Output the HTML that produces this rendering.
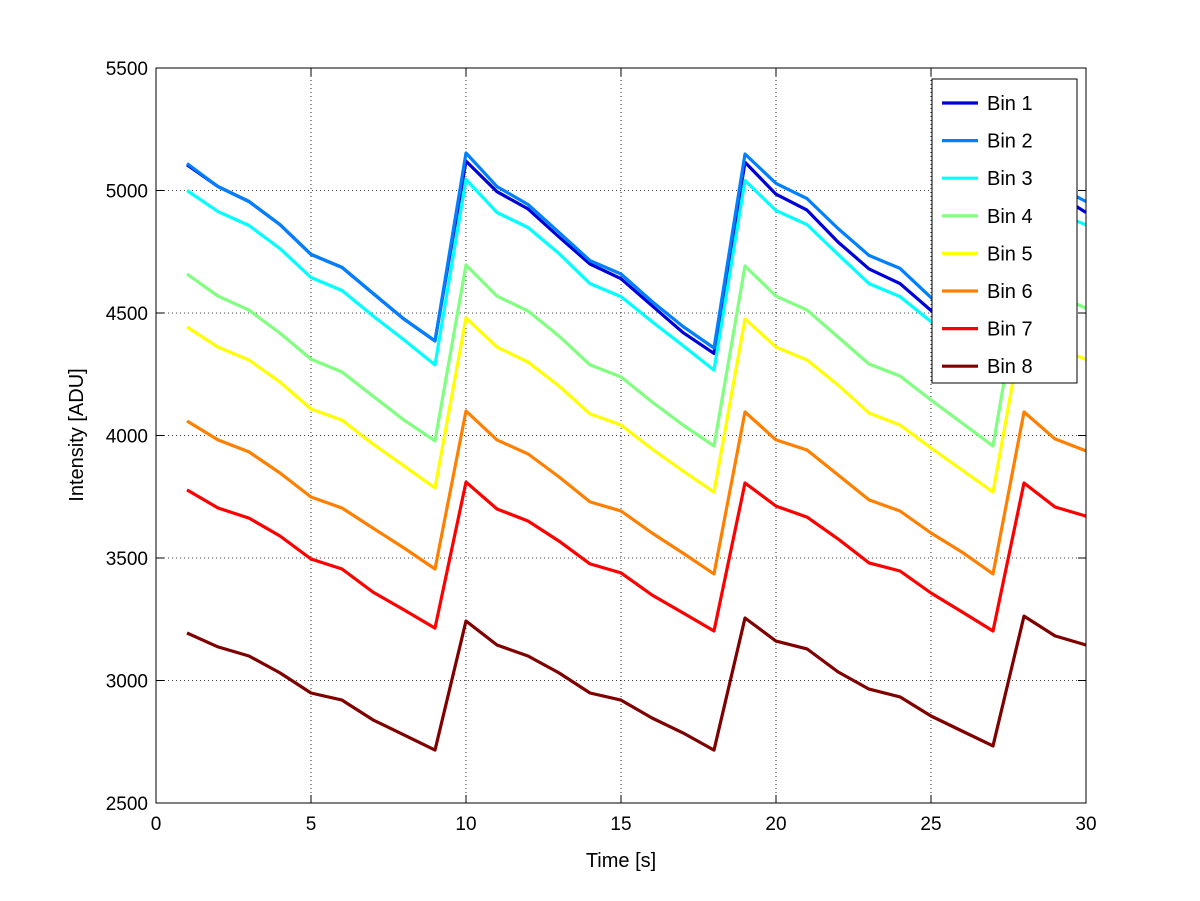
<!DOCTYPE html>
<html><head><meta charset="utf-8"><style>
body{margin:0;background:#fff;}
svg{display:block;font-family:"Liberation Sans",sans-serif;}
</style></head><body>
<svg id="chart" width="1200" height="901" viewBox="0 0 1200 901"></svg>
<script>
const xTicks=[0,5,10,15,20,25,30];
const yTicks=[2500,3000,3500,4000,4500,5000,5500];
const seriesNames=["Bin 1","Bin 2","Bin 3","Bin 4","Bin 5","Bin 6","Bin 7","Bin 8"];
const seriesColors=["#0000d8","#0080ff","#00ffff","#80ff80","#ffff00","#ff8000","#ff0000","#800000"];
const bin1=[5105,5016,4955,4861,4739,4686,4580,4475,4386,5120,4995,4925,4810,4700,4640,4530,4420,4335,5115,4985,4920,4790,4680,4620,4510,4420,4330,5120,4990,4910];
const bin2=[5110,5016,4955,4861,4739,4686,4580,4475,4386,5153,5016,4943,4829,4714,4659,4547,4445,4357,5149,5029,4967,4845,4735,4682,4563,4460,4365,5140,5020,4955];
const bin3=[5000,4914,4857,4763,4645,4592,4488,4390,4288,5045,4910,4849,4743,4620,4567,4465,4367,4267,5041,4918,4861,4739,4620,4567,4465,4371,4267,5040,4910,4860];
const bin4=[4659,4569,4512,4418,4312,4259,4161,4063,3978,4696,4569,4508,4406,4288,4239,4137,4043,3957,4692,4569,4512,4402,4292,4243,4145,4051,3957,4696,4575,4520];
const bin5=[4443,4361,4308,4218,4108,4063,3965,3876,3786,4480,4361,4300,4202,4088,4043,3945,3855,3769,4476,4361,4308,4206,4092,4043,3949,3859,3769,4471,4360,4310];
const bin6=[4059,3982,3933,3847,3749,3704,3622,3541,3455,4100,3982,3925,3831,3729,3692,3602,3520,3435,4096,3982,3941,3839,3737,3692,3602,3524,3435,4096,3986,3937];
const bin7=[3778,3704,3663,3590,3496,3455,3361,3288,3214,3810,3700,3651,3569,3476,3439,3349,3276,3202,3806,3712,3667,3578,3480,3447,3357,3280,3202,3806,3708,3671];
const bin8=[3194,3137,3100,3031,2949,2920,2839,2778,2716,3243,3145,3100,3031,2949,2920,2847,2786,2716,3255,3161,3129,3035,2965,2933,2855,2794,2733,3263,3182,3145];
const allSeries=[bin1,bin2,bin3,bin4,bin5,bin6,bin7,bin8];

const L=156,R=1086,T=68,B=803;
const xs=v=>L+(v-0)/(30-0)*(R-L);
const ys=v=>B-(v-2500)/(5500-2500)*(B-T);
const svg=document.getElementById('chart');
const NS='http://www.w3.org/2000/svg';
function mk(tag,attrs,parent){const e=document.createElementNS(NS,tag);for(const k in attrs)e.setAttribute(k,attrs[k]);(parent||svg).appendChild(e);return e;}

const bg=mk('rect',{x:L,y:T,width:R-L,height:B-T,fill:'#fff'});



const grid=mk('g',{});


xTicks.forEach(t=>{if(t>0&&t<30){const l=mk('line',{x1:xs(t),x2:xs(t),y1:T,y2:B,stroke:'#000','stroke-width':0.8,'stroke-dasharray':'1,3'},grid);}});
yTicks.forEach(t=>{if(t>2500&&t<5500){mk('line',{x1:L,x2:R,y1:ys(t),y2:ys(t),stroke:'#000','stroke-width':0.8,'stroke-dasharray':'1,3'},grid);}});

const lines=mk('g',{});


allSeries.forEach((s,i)=>{
  const d=s.map((v,j)=>(j?'L':'M')+xs(j+1).toFixed(1)+','+ys(v).toFixed(1)).join('');
  const p=mk('path',{d:d,fill:'none',stroke:seriesColors[i],'stroke-width':3.2,'stroke-linejoin':'round'},lines);
  
  
});

const frame=mk('rect',{x:L,y:T,width:R-L,height:B-T,fill:'none',stroke:'#000','stroke-width':1});



const xa=mk('g',{});


xTicks.forEach(t=>{
  mk('line',{x1:xs(t),x2:xs(t),y1:B,y2:B-8,stroke:'#000'},xa);
  mk('line',{x1:xs(t),x2:xs(t),y1:T,y2:T+8,stroke:'#000'},xa);
  const tx=mk('text',{x:xs(t),y:B+27,'font-size':19,'text-anchor':'middle'},xa);
  tx.textContent=t;
  
  
});
const ya=mk('g',{});


yTicks.forEach(t=>{
  mk('line',{x1:L,x2:L+8,y1:ys(t),y2:ys(t),stroke:'#000'},ya);
  mk('line',{x1:R,x2:R-8,y1:ys(t),y2:ys(t),stroke:'#000'},ya);
  const tx=mk('text',{x:L-8,y:ys(t)+7,'font-size':19,'text-anchor':'end'},ya);
  tx.textContent=t;
  
  
});
const xt=mk('text',{x:(L+R)/2,y:867,'font-size':20,'text-anchor':'middle'});
xt.textContent='Time [s]';


const yt=mk('text',{x:0,y:0,'font-size':20,'text-anchor':'middle',transform:'translate(83,435) rotate(-90)'});
yt.textContent='Intensity [ADU]';



const lg=mk('g',{});


mk('rect',{x:932,y:79,width:145,height:304,fill:'#fff',stroke:'#000','stroke-width':1},lg);
seriesNames.forEach((n,i)=>{
  const yy=103+i*37.6;
  const ent=mk('g',{},lg);
  
  
  mk('line',{x1:942,x2:978,y1:yy,y2:yy,stroke:seriesColors[i],'stroke-width':3.2},ent);
  const tx=mk('text',{x:987,y:yy+7,'font-size':20},ent);
  tx.textContent=n;
});
</script>
</body></html>
